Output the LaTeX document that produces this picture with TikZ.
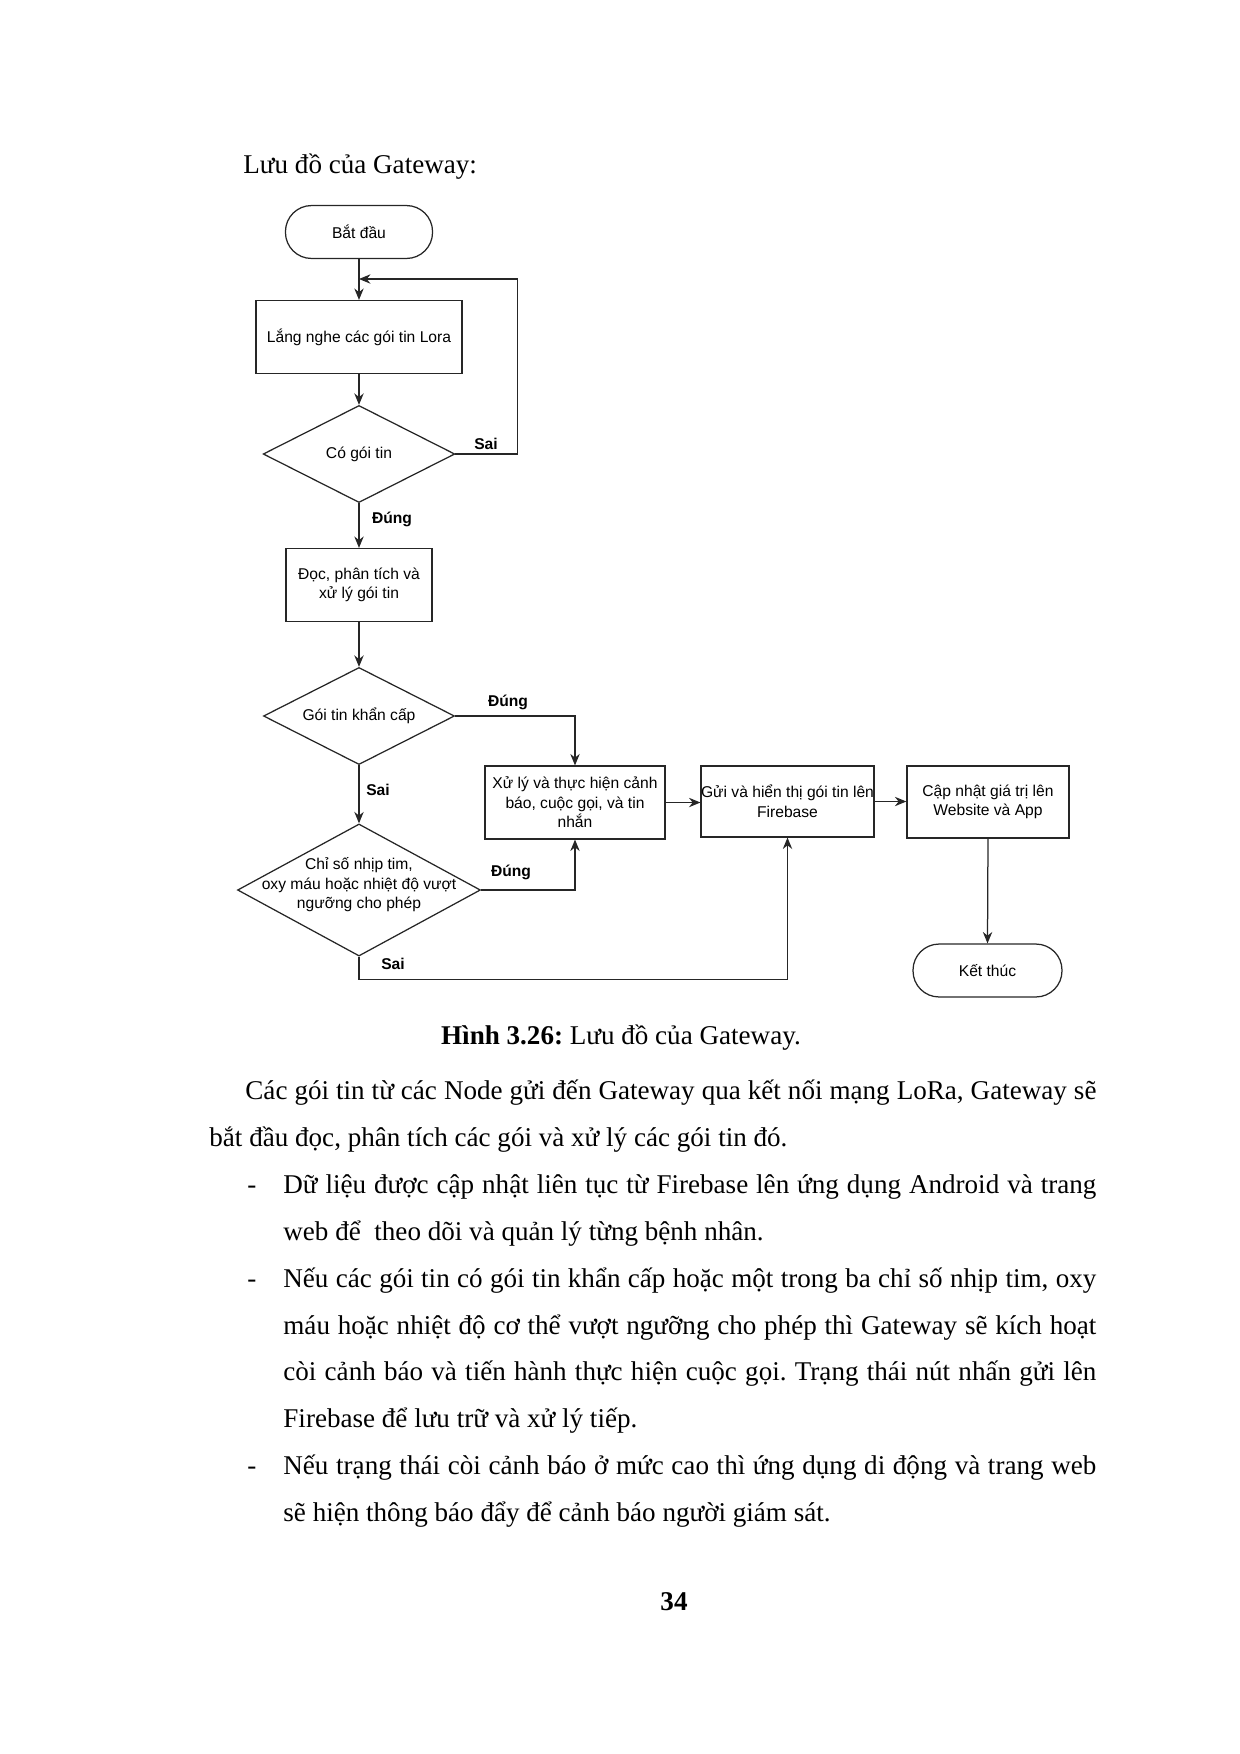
\documentclass[tikz,border=0pt]{standalone}
\usepackage{fontspec}
\setmainfont{Liberation Serif}
\newfontfamily\chartfont{Liberation Sans}
\usetikzlibrary{arrows.meta,shapes.geometric}
\frenchspacing

\tikzset{
  chartfont/.style={font=\chartfont\fontsize{7.5}{9.4}\selectfont},
  terminal/.style={draw=black!85, line width=0.6pt, rectangle, rounded corners=12.5pt, chartfont,
    minimum width=70.6pt, minimum height=25.4pt},
  process/.style={draw=black!85, line width=0.6pt, rectangle, inner sep=0.5pt, align=center, chartfont},
  decision/.style={draw=black!85, line width=0.6pt, diamond, inner sep=0pt},
  dtext/.style={align=center, inner sep=0pt, chartfont},
  yesno/.style={inner sep=0pt, font=\chartfont\bfseries\fontsize{7.5}{9}\selectfont},
  flow/.style={draw=black!85, line width=0.6pt, -{Stealth[length=5.5pt,width=4.5pt]}},
  bodyline/.style={anchor=base west, inner sep=0pt, font=\fontsize{13}{15}\selectfont},
}

\begin{document}
\begin{tikzpicture}[x=0.48pt,y=0.48pt,yscale=-1]
\useasboundingbox (0,0) rectangle (1240,1754);

% heading of the page
\node[bodyline] (title) at (243,173) {Lưu đồ của Gateway:};

% flowchart
\node[terminal] (start) at (359,232) {Bắt đầu};
\node[process, minimum width=98.9pt, minimum height=35pt] (listen) at (359,337) {Lắng nghe các gói tin Lora};
\node[decision, minimum width=92pt, minimum height=46.6pt] (hasmsg) at (359,454) {};
\node[dtext] (hasmsgtxt) at (hasmsg) {Có gói tin};
\node[process, minimum width=70pt, minimum height=35pt] (read) at (359,585) {Đọc, phân tích và\\xử lý gói tin};
\node[decision, minimum width=91.7pt, minimum height=46.6pt] (urgent) at (359,716) {};
\node[dtext] (urgenttxt) at (urgent) {Gói tin khẩn cấp};
\node[decision, minimum width=116.6pt, minimum height=63.4pt] (vitals) at (359,890) {};
\node[dtext] (vitalstxt) at (359,885) {Chỉ số nhịp tim,\\oxy máu hoặc nhiệt độ vượt\\ngưỡng cho phép};
\node[process, minimum width=86.4pt, minimum height=35pt] (alert) at (575,802.5) {Xử lý và thực hiện cảnh\\báo, cuộc gọi, và tin\\nhắn};
\node[process, minimum width=79.2pt, minimum height=34pt, inner sep=0pt] (fb) at (787.5,801.5) {Gửi và hiển thị gói tin lên\\Firebase};
\node[process, minimum width=77.8pt, minimum height=34.6pt] (upd) at (988,802) {Cập nhật giá trị lên\\Website và App};
\node[terminal, minimum width=71.5pt] (finish) at (987.5,970.5) {Kết thúc};

\coordinate (loopin) at (359,279);

\draw[flow] (start.south) -- (listen.north);
\draw[flow] (listen.south) -- (hasmsg.north);
\draw[flow] (hasmsg.east) -- ++(62,0) |- (loopin);
\draw[flow] (hasmsg.south) -- (read.north);
\draw[flow] (read.south) -- (urgent.north);
\draw[flow] (urgent.east) -| (alert.north);
\draw[flow] (urgent.south) -- (vitals.north);
\draw[flow] (vitals.east) -| (alert.south);
\draw[flow] (vitals.south) -- ++(0,23) -| (fb.south);
\draw[flow] (alert.east) -- (fb.west |- alert.east);
\draw[flow] (fb.east) -- (upd.west |- fb.east);
\draw[flow] (upd.south) -- (finish.north);

\node[yesno] (no1) at (486,444) {Sai};
\node[yesno] (yes1) at (392,519) {Đúng};
\node[yesno] (yes2) at (508,702) {Đúng};
\node[yesno] (no2) at (378,790) {Sai};
\node[yesno] (yes3) at (511,872) {Đúng};
\node[yesno] (no3) at (393,964) {Sai};

% caption and text of the page
\node[anchor=base, inner sep=0pt, font=\fontsize{13}{15}\selectfont] (caption) at (621,1044) {\textbf{Hình 3.26:} Lưu đồ của Gateway.};

\node[bodyline] (p1a) at (245,1099.5) {\makebox[408.5pt][s]{Các gói tin từ các Node gửi đến Gateway qua kết nối mạng LoRa, Gateway sẽ}};
\node[bodyline] (p1b) at (209,1146.4) {bắt đầu đọc, phân tích các gói và xử lý các gói tin đó.};
\node[bodyline] (d1) at (247,1193.3) {-};
\node[bodyline] (b1a) at (283,1193.3) {\makebox[390.2pt][s]{Dữ liệu được cập nhật liên tục từ Firebase lên ứng dụng Android và trang}};
\node[bodyline] (b1b) at (283,1240.2) {web để\ \ theo dõi và quản lý từng bệnh nhân.};
\node[bodyline] (d2) at (247,1287.1) {-};
\node[bodyline] (b2a) at (283,1287.1) {\makebox[390.2pt][s]{Nếu các gói tin có gói tin khẩn cấp hoặc một trong ba chỉ số nhịp tim, oxy}};
\node[bodyline] (b2b) at (283,1334) {\makebox[390.2pt][s]{máu hoặc nhiệt độ cơ thể vượt ngưỡng cho phép thì Gateway sẽ kích hoạt}};
\node[bodyline] (b2c) at (283,1380.9) {\makebox[390.2pt][s]{còi cảnh báo và tiến hành thực hiện cuộc gọi. Trạng thái nút nhấn gửi lên}};
\node[bodyline] (b2d) at (283,1427.8) {Firebase để lưu trữ và xử lý tiếp.};
\node[bodyline] (d3) at (247,1474.7) {-};
\node[bodyline] (b3a) at (283,1474.7) {\makebox[390.2pt][s]{Nếu trạng thái còi cảnh báo ở mức cao thì ứng dụng di động và trang web}};
\node[bodyline] (b3b) at (283,1521.6) {sẽ hiện thông báo đẩy để cảnh báo người giám sát.};

\node[anchor=base, inner sep=0pt, font=\fontsize{13}{15}\selectfont] (pagenum) at (674,1610) {\textbf{34}};

\end{tikzpicture}
\end{document}
